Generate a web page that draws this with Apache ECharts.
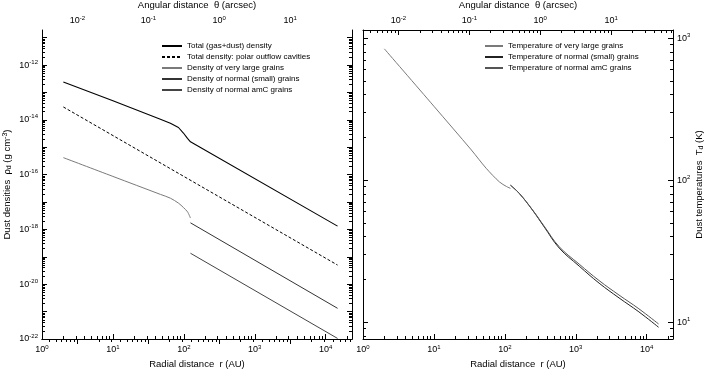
<!DOCTYPE html>
<html><head><meta charset="utf-8">
<script src="https://cdn.jsdelivr.net/npm/echarts@6/dist/echarts.min.js"></script>
<style>html,body{margin:0;padding:0;background:#fff}#c{width:708px;height:372px}</style>
</head><body><div id="c"></div>
<script>
// ---------- data ----------
// Left panel: dust densities (g cm^-3) vs radial distance r (AU)
const rTotal   = [2, 10, 46.7, 64.6, 84, 98.6, 112.5, 124, 14700];
const rhoTotal = [2.4e-13, 4.95e-14, 1.05e-14, 7.5e-15, 5.25e-15, 3.3e-15, 2.1e-15, 1.58e-15, 1.32e-18];
const rCavity   = [2, 14700];
const rhoCavity = [2.95e-14, 5.0e-20];
const rLarge   = [2, 10, 46.7, 64.6, 84, 98.6, 112.5, 124];
const rhoLarge = [4.17e-16, 8.6e-17, 1.9e-17, 1.38e-17, 9.1e-18, 6.3e-18, 4.4e-18, 2.6e-18];
const rSmall   = [124, 14700];
const rhoSmall = [1.74e-18, 1.32e-21];
const rAmC     = [124, 14700];
const rhoAmC   = [1.35e-19, 1.05e-22];
// Right panel: dust temperatures (K) vs radial distance r (AU)
const rTLarge = [2, 10, 33.7, 54.6, 84, 106, 120];
const tLarge  = [840, 331, 163, 121, 97, 90, 87.5];
const rTSmall = [120, 160, 245, 360, 585, 1117, 2133, 4074, 7762, 14700];
const tSmall  = [92, 80.5, 61.5, 46.7, 33.2, 24.8, 18.8, 14.8, 11.8, 9.2];
const tAmC    = [92, 80.5, 61.8, 47.2, 33.9, 25.6, 19.6, 15.5, 12.4, 9.7];

const seriesNamesL = ['Total (gas+dust) density', 'Total density: polar outflow cavities',
  'Density of very large grains', 'Density of normal (small) grains', 'Density of normal amC grains'];
const seriesNamesR = ['Temperature of very large grains', 'Temperature of normal (small) grains',
  'Temperature of normal amC grains'];

// ---------- axis ranges and tick values ----------
const R_MIN = 1, R_MAX = 2.35e4;
const DIST_PC = 316;           // AU per arcsec
const RHO_MIN = 1e-22, RHO_MAX = 1.9e-11;
const T_MIN = 7.6, T_MAX = 1140;
const rTicks      = [10, 100, 1000, 10000];
const rLabels     = [1, 10, 100, 1000, 10000];
const thetaTicks  = [0.01, 0.1, 1, 10];
const rhoTicks    = [1e-21,1e-20,1e-19,1e-18,1e-17,1e-16,1e-15,1e-14,1e-13,1e-12,1e-11];
const rhoLabels   = [1e-22,1e-20,1e-18,1e-16,1e-14,1e-12];
const tTicks      = [10, 100, 1000];

const FONT = 'Liberation Sans, Arial, Helvetica, sans-serif';
function minors(lo, hi) {
  const out = [];
  for (let e = Math.floor(Math.log10(lo)) - 1; e <= Math.ceil(Math.log10(hi)); e++) {
    for (let k = 2; k <= 9; k++) {
      const v = Number((k * Math.pow(10, e)).toPrecision(6));
      if (v > lo && v < hi) out.push(v);
    }
  }
  return out;
}
const RICH = {
  b: {fontSize: 9, lineHeight: 12, fontFamily: FONT, color: '#000'},
  s: {fontSize: 6, lineHeight: 8, verticalAlign: 'top', fontFamily: FONT, color: '#000'}
};
function fmt(v) { return '{b|10}{s|' + Math.round(Math.log10(v)) + '}'; }
const NAME_STYLE = {
  fontSize: 9.5, fontFamily: FONT, color: '#000',
  rich: {
    sub: {fontSize: 7, fontFamily: FONT, color: '#000', verticalAlign: 'bottom', padding: [4, 0, 0, 0]},
    sup: {fontSize: 7, fontFamily: FONT, color: '#000', verticalAlign: 'top', padding: [0, 0, 4, 0]}
  }
};
// main log axis: data, frame line, major ticks, labels, title
function mainAxis(o) {
  const a = {
    type: 'log', gridIndex: o.grid, position: o.pos, min: o.min, max: o.max,
    axisLine: {show: true, lineStyle: {color: '#000', width: 1}},
    axisTick: {show: true, inside: true, length: 5, customValues: o.ticks, lineStyle: {color: '#000', width: 1}},
    axisLabel: o.labels ? {show: true, customValues: o.labels, formatter: fmt, margin: o.margin,
                           rich: RICH, color: '#000'} : {show: false},
    splitLine: {show: false}
  };
  if (o.name) {
    a.name = o.name; a.nameLocation = 'middle'; a.nameGap = o.gap;
    a.nameRotate = o.rot || 0; a.nameTextStyle = NAME_STYLE;
  }
  return a;
}
// companion log axis on the same side carrying the short (minor) ticks only
function minorAxis(o) {
  return {
    type: 'log', gridIndex: o.grid, position: o.pos, min: o.min, max: o.max,
    axisLine: {show: false},
    axisTick: {show: true, inside: true, length: 3, customValues: minors(o.min, o.max),
               lineStyle: {color: '#000', width: 1}},
    axisLabel: {show: false}, splitLine: {show: false}
  };
}
function side(arr, o) { arr.push(mainAxis(o)); arr.push(minorAxis(o)); }
const thMin = R_MIN / DIST_PC, thMax = R_MAX / DIST_PC;
const xAxes = [];
const yAxes = [];
for (let g = 0; g < 2; g++) {
  side(xAxes, {grid: g, pos: 'bottom', min: R_MIN, max: R_MAX, ticks: rTicks, labels: rLabels, margin: 5,
               name: 'Radial distance  r (AU)', gap: 20});
  side(xAxes, {grid: g, pos: 'top', min: thMin, max: thMax, ticks: thetaTicks, labels: thetaTicks, margin: 3,
               name: 'Angular distance  θ (arcsec)', gap: 20});
}
// xAxis index: grid0 bottom = 0, grid1 bottom = 4
side(yAxes, {grid: 0, pos: 'left', min: RHO_MIN, max: RHO_MAX, ticks: rhoTicks, labels: rhoLabels, margin: 4,
             name: 'Dust densities  ρ{sub|d} (g cm{sup|-3})', gap: 29, rot: 90});   // 0
side(yAxes, {grid: 0, pos: 'right', min: RHO_MIN, max: RHO_MAX, ticks: rhoTicks});    // 2
side(yAxes, {grid: 1, pos: 'left', min: T_MIN, max: T_MAX, ticks: tTicks});           // 4
side(yAxes, {grid: 1, pos: 'right', min: T_MIN, max: T_MAX, ticks: tTicks, labels: tTicks, margin: 4,
             name: 'Dust temperatures  T{sub|d} (K)', gap: 20, rot: 90});             // 6

function zip(a, b) { return a.map((v, i) => [v, b[i]]); }
function line(name, xi, yi, xs, ys, color, width, type, smooth) {
  return {type: 'line', name: name, xAxisIndex: xi, yAxisIndex: yi, data: zip(xs, ys),
          showSymbol: false, symbol: 'none', silent: true, animation: false, smooth: smooth || false,
          lineStyle: {color: color, width: width, type: type || 'solid'}, itemStyle: {color: color}};
}
const series = [
  line(seriesNamesL[0], 0, 0, rTotal, rhoTotal, '#000', 1.1),
  line(seriesNamesL[1], 0, 0, rCavity, rhoCavity, '#000', 1, [3, 2]),
  line(seriesNamesL[2], 0, 0, rLarge, rhoLarge, '#7a7a7a', 1, 'solid', 0.3),
  line(seriesNamesL[3], 0, 0, rSmall, rhoSmall, '#333', 1),
  line(seriesNamesL[4], 0, 0, rAmC, rhoAmC, '#444', 1),
  line(seriesNamesR[0], 4, 6, rTLarge, tLarge, '#7a7a7a', 1, 'solid', 0.3),
  line(seriesNamesR[1], 4, 6, rTSmall, tSmall, '#222', 1, 'solid', 0.4),
  line(seriesNamesR[2], 4, 6, rTSmall, tAmC, '#555', 1, 'solid', 0.4)
];
const LEG_TEXT = {fontSize: 8, fontFamily: FONT, color: '#000'};
const LEG_ITEM = {color: 'rgba(0,0,0,0)', borderWidth: 0, opacity: 0};
const option = {
  backgroundColor: '#fff',
  animation: false,
  textStyle: {fontFamily: FONT},
  grid: [
    {left: 42, top: 30, width: 310, height: 309, outerBoundsMode: 'none'},
    {left: 363, top: 30, width: 310, height: 309, outerBoundsMode: 'none'}
  ],
  xAxis: xAxes,
  yAxis: yAxes,
  legend: [
    {data: seriesNamesL, left: 161, top: 42, orient: 'vertical', itemWidth: 20, itemHeight: 10,
     itemGap: 3, textStyle: LEG_TEXT, selectedMode: false, padding: 0, itemStyle: LEG_ITEM},
    {data: seriesNamesR, left: 484, top: 42, orient: 'vertical', itemWidth: 18, itemHeight: 10,
     itemGap: 3, textStyle: LEG_TEXT, selectedMode: false, padding: 0, itemStyle: LEG_ITEM}
  ],
  series: series
};
const chart = echarts.init(document.getElementById('c'), null, {renderer: 'canvas'});
chart.setOption(option);
</script></body></html>
